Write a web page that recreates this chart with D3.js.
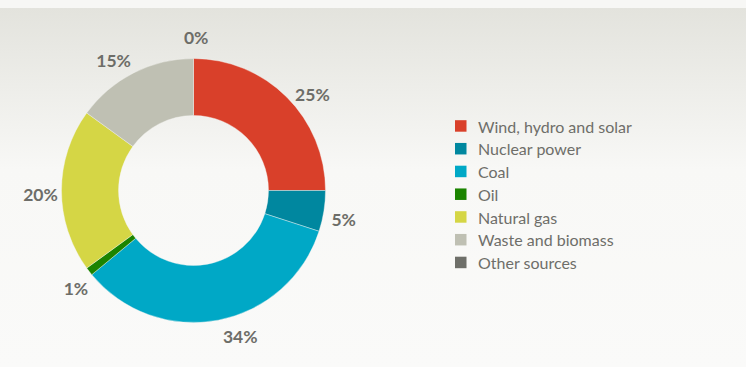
<!DOCTYPE html>
<html>
<head>
<meta charset="utf-8">
<script src="https://cdn.jsdelivr.net/npm/d3@7"></script>
<style>
  html, body { margin: 0; padding: 0; background: #f7f7f5; }
  svg { display: block; }
</style>
</head>
<body>
<svg id="chart" width="746" height="367"></svg>
<script>
// Electricity sources, share of production (%)
const categories = ["Wind, hydro and solar", "Nuclear power", "Coal", "Oil", "Natural gas", "Waste and biomass", "Other sources"];
const shares = [25, 5, 34, 1, 20, 15, 0];
const colors = ["#d9402a", "#00879f", "#00a8c6", "#1b8400", "#d5d645", "#bfc0b3", "#6e6f69"];
const valueLabels = ["25%", "5%", "34%", "1%", "20%", "15%", "0%"];
// small angular nudges (degrees) so the percentage labels sit clear of each other
const labelNudgeDeg = [6, 2, -7, -2, -1.5, -4.5, 1];

const W = 746, H = 367;
const svg = d3.select("#chart");

// background panel with soft vertical gradient
const defs = svg.append("defs");
const grad = defs.append("linearGradient").attr("id", "bg").attr("x1", 0).attr("y1", 0).attr("x2", 0).attr("y2", 1);
grad.append("stop").attr("offset", "0%").attr("stop-color", "#e3e3dd");
grad.append("stop").attr("offset", "45%").attr("stop-color", "#f8f8f6");
grad.append("stop").attr("offset", "100%").attr("stop-color", "#fafaf9");
svg.append("rect").attr("x", 0).attr("y", 0).attr("width", W).attr("height", 8).attr("fill", "#f7f7f5");
svg.append("rect").attr("x", 0).attr("y", 8).attr("width", W).attr("height", H - 8).attr("fill", "url(#bg)");

const cx = 193.5, cy = 190.5;
const outerR = 132, innerR = 75, labelR = 153;

const data = categories.map((c, i) => ({ name: c, value: shares[i], color: colors[i], label: valueLabels[i], nudge: labelNudgeDeg[i] }));

const pie = d3.pie().value(d => d.value).sort(null);
const arcs = pie(data);
const arc = d3.arc().innerRadius(innerR).outerRadius(outerR);

const g = svg.append("g").attr("transform", `translate(${cx},${cy})`);

g.selectAll("path.slice")
  .data(arcs)
  .join("path")
  .attr("class", "slice")
  .attr("d", arc)
  .attr("fill", d => d.data.color)
  .attr("stroke", d => d.data.value > 0 ? "#f5f5f2" : "none")
  .attr("stroke-width", 0.4);

g.selectAll("text.pct")
  .data(arcs)
  .join("text")
  .attr("class", "pct")
  .attr("transform", d => {
    const a = (d.startAngle + d.endAngle) / 2 + d.data.nudge * Math.PI / 180;
    const x = labelR * Math.sin(a), y = -labelR * Math.cos(a);
    return `translate(${x},${y})`;
  })
  .attr("text-anchor", "middle")
  .attr("dominant-baseline", "central")
  .attr("font-family", "Lato, 'Open Sans', sans-serif")
  .attr("font-weight", "bold")
  .attr("font-size", 17.5)
  .attr("fill", "#6d6d68")
  .text(d => d.data.label);

// legend
const legend = svg.append("g").attr("transform", "translate(455,125.7)");
const rowH = 22.75;
const rows = legend.selectAll("g.row")
  .data(data)
  .join("g")
  .attr("class", "row")
  .attr("transform", (d, i) => `translate(0,${i * rowH})`);
rows.append("rect")
  .attr("x", 0).attr("y", -5.5)
  .attr("width", 11.5).attr("height", 11.5)
  .attr("fill", d => d.color);
rows.append("text")
  .attr("x", 23).attr("y", 0.3)
  .attr("dominant-baseline", "central")
  .attr("font-family", "Lato, 'Open Sans', sans-serif")
  .attr("font-size", 16)
  .attr("fill", "#6e6e69")
  .text(d => d.name);
</script>
</body>
</html>
